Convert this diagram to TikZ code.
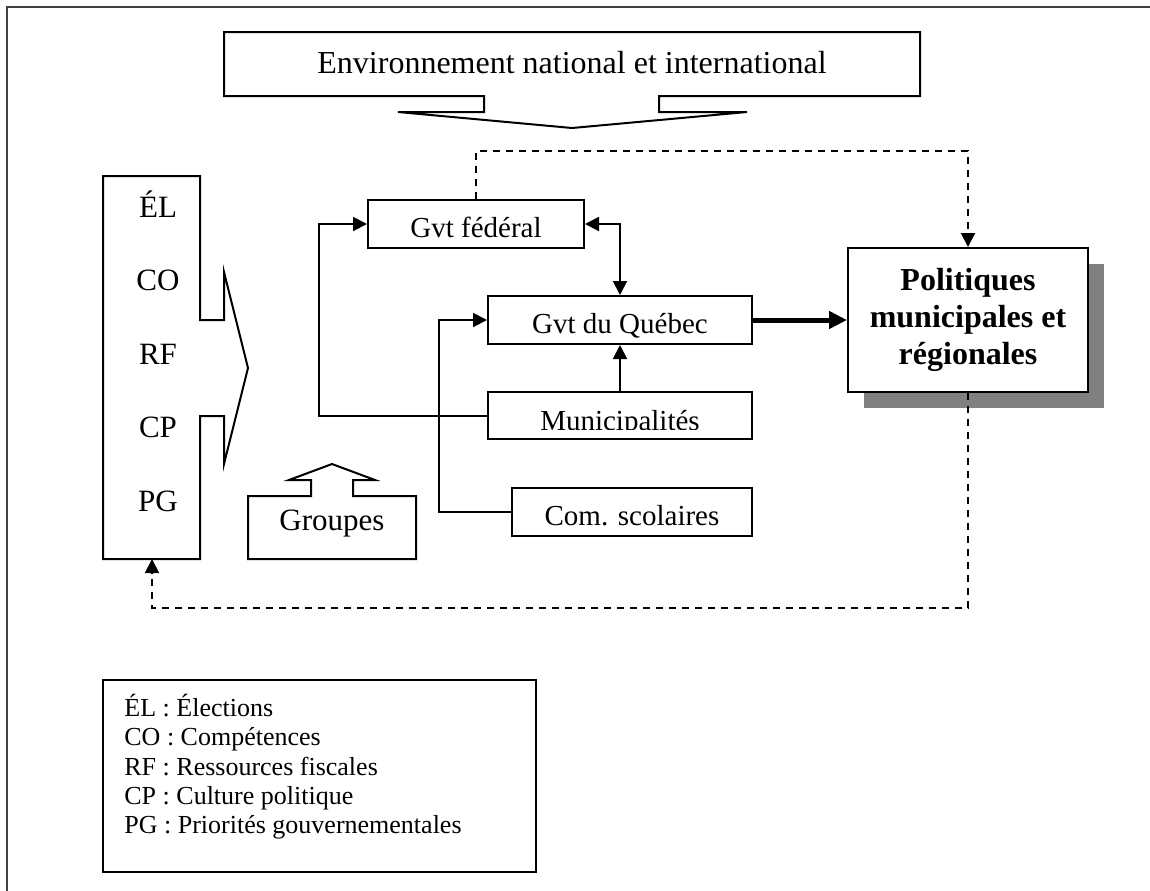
\documentclass[tikz,border=0pt]{standalone}
\usepackage{fontspec}
\setmainfont{Liberation Serif}
\usetikzlibrary{arrows.meta,positioning,shadows}

\begin{document}
\begin{tikzpicture}[x=0.5pt,y=-0.5pt,node distance=36.75pt,
		box/.style={draw,line width=1pt,fill=white,inner sep=0pt,text height=13.5pt,text depth=0pt,font=\fontsize{14.5}{17}\selectfont},
		tag/.style={on grid,inner sep=0pt,text height=10pt,text depth=0pt,font=\fontsize{15.5}{18}\selectfont},
		link/.style={line width=1pt,>={Triangle[length=7pt,width=7pt]}},
		back/.style={link,dash pattern=on 3.5pt off 3pt}]
	\useasboundingbox (0,0) rectangle (1150,890);
	\draw[line width=1.1pt,black!75] (1160,7) -- (7,7) -- (7,900);

	% environnement (fleche vers le bas)
	\draw[line width=1pt] (224,32) -- (920,32) -- (920,96) -- (659,96) -- (659,112) -- (747,112)
		-- (572,128) -- (398,112) -- (484,112) -- (484,96) -- (224,96) -- cycle;
	\node[inner sep=0pt,anchor=base,font=\fontsize{16}{18}\selectfont] (env) at (572,73) {Environnement national et international};

	% facteurs (fleche vers la droite)
	\draw[line width=1pt] (103,176) -- (200,176) -- (200,320) -- (224,320) -- (224,272) -- (248,368)
		-- (224,464) -- (224,416) -- (200,416) -- (200,559) -- (103,559) -- cycle;
	\coordinate (fac) at (152,559);
	\node[tag] (el) at (158,207) {ÉL};
	\node[tag] (co) [below=of el] {CO};
	\node[tag] (rf) [below=of co] {RF};
	\node[tag] (cp) [below=of rf] {CP};
	\node[tag] (pg) [below=of cp] {PG};

	% groupes (fleche vers le haut)
	\draw[line width=1pt] (248,496) -- (311,496) -- (311,480) -- (289,480) -- (332,464) -- (375,480)
		-- (353,480) -- (353,496) -- (416,496) -- (416,559) -- (248,559) -- cycle;
	\node[tag,text height=11pt] (grp) at (332,519) {Groupes};

	\node[box,minimum width=108pt,minimum height=24pt] (fed) at (476,224) {Gvt fédéral};
	\node[box,minimum width=132pt,minimum height=24pt] (qc) at (620,320) {Gvt du Québec};
	\node[box,minimum width=132pt,minimum height=23.5pt] (muni) at (620,415.5) {};
	\begin{scope}
		\clip (488,392) rectangle (752,429);
		\node[inner sep=0pt,anchor=base,font=\fontsize{14.5}{17}\selectfont] (munitext) at (620,430) {Municipalités};
	\end{scope}
	\node[box,minimum width=120pt,minimum height=24pt] (scol) at (632,512) {Com. scolaires};
	\node[draw,line width=1pt,fill=white,align=center,minimum width=120pt,minimum height=72pt,
		font=\fontsize{16}{18.5}\selectfont\bfseries,
		drop shadow={shadow xshift=8pt,shadow yshift=-8pt,fill=black!50,opacity=1}] (pol) at (968,320)
		{Politiques\\municipales et\\régionales};

	\draw[link,->] (muni.west) -- ++(-168,0) |- (fed.west);
	\draw[link,->] (scol.west) -- ++(-72,0) |- (qc.west);
	\draw[link,<->] (fed.east) -| (qc.north);
	\draw[link,->] (muni.north) -- (qc.south);
	\draw[line width=2.5pt,-{Triangle[length=9pt,width=8.5pt]}] (qc.east) -- (pol.west);
	\draw[back,->] (fed.north) -- ++(0,-48) -| (pol.north);
	\draw[back,->] (pol.south) -- ++(0,215) -| (fac);

	% legende
	\node[draw,line width=1pt,minimum width=216.5pt,minimum height=96pt] (legend) at (319.5,776) {};
	\node[inner sep=0pt,anchor=north west,align=left,font=\fontsize{13}{14.6}\selectfont] (legtext) at (124,694)
		{ÉL : Élections\\CO : Compétences\\RF : Ressources fiscales\\CP : Culture politique\\PG : Priorités gouvernementales};
\end{tikzpicture}
\end{document}
